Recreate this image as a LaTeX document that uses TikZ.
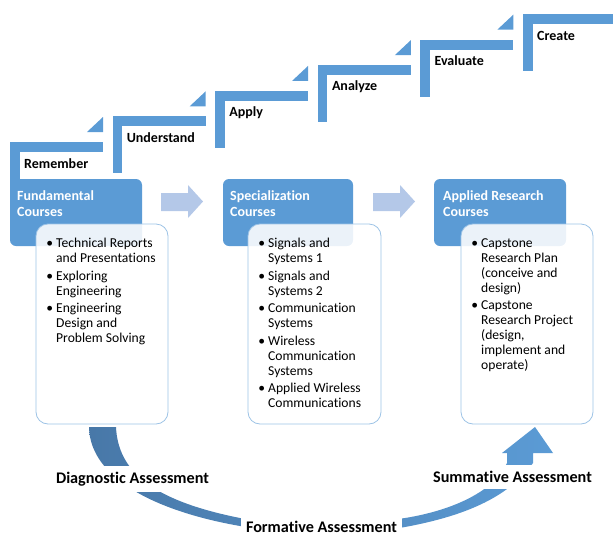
\documentclass[tikz,border=0pt]{standalone}
\usepackage{fontspec}
\setmainfont[Ligatures=NoCommon]{Carlito}
\definecolor{stepblue}{HTML}{5B9BD5}
\definecolor{darkband}{HTML}{4878A8}
\definecolor{lightarrow}{HTML}{B4C8E8}
\definecolor{boxline}{HTML}{9DC3E6}
\tikzset{
  stepbar/.style={fill=stepblue, draw=none},
  header/.style={fill=stepblue, draw=none, rounded corners=6pt},
  listbox/.style={fill=white, fill opacity=0.88, draw=boxline, line width=0.8pt, rounded corners=12pt},
  steplabel/.style={font=\bfseries\fontsize{14}{16}\selectfont, anchor=west, inner sep=0pt},
  headtext/.style={font=\bfseries\fontsize{14}{16}\selectfont, text=white, align=left, anchor=north west, inner sep=0pt},
  listtext/.style={font=\fontsize{13.6}{15}\selectfont, align=left, anchor=north west, inner sep=0pt},
  assess/.style={font=\bfseries\fontsize{16.2}{18}\selectfont, fill=white, inner xsep=5pt, inner ysep=6pt},
  flowarrow/.style={fill=lightarrow, draw=none},
  band/.style={left color=darkband, right color=stepblue, draw=none}
}
\newcommand{\bul}{\llap{\textbullet\hspace{3pt}}}
\begin{document}
\begin{tikzpicture}[x=1pt,y=-1pt]
\useasboundingbox (0,0) rectangle (613,536);

% Bloom's staircase
\foreach \i/\lab in {0/Remember,1/Understand,2/Apply,3/Analyze,4/Evaluate,5/Create}{
  \pgfmathsetmacro{\xo}{10+102.6*\i}
  \pgfmathsetmacro{\yo}{142-25.6*\i}
  \fill[stepblue] (\xo,\yo) rectangle ++(93,10);
  \fill[stepblue] (\xo,\yo) rectangle ++(9.5,57);
  \ifnum\i<5
    \fill[stepblue] (\xo+93,\yo-25) -- (\xo+93,\yo-10) -- (\xo+77,\yo-10) -- cycle;
  \fi
  \node[steplabel] (lab\i) at (\xo+14,\yo+21.5) {\lab};
}

% header boxes
\path[header] (10,179) rectangle (142,246);
\path[header] (223,179) rectangle (353,246);
\path[header] (434,179) rectangle (566,246);

% list boxes
\path[listbox] (36,224) rectangle (168,424);
\path[listbox] (248,224) rectangle (381,424);
\path[listbox] (461,224) rectangle (593,424);

\node[headtext] (h1) at (17,190.5) {Fundamental\\Courses};
\node[headtext] (h2) at (230,190.5) {Specialization\\Courses};
\node[headtext] (h3) at (443,190.5) {Applied Research\\Courses};

\node[listtext] (l1) at (56,238) {\bul Technical Reports\\and Presentations\\[2.5pt]
\bul Exploring\\Engineering\\[2.5pt]
\bul Engineering\\Design and\\Problem Solving};
\node[listtext] (l2) at (268,238) {\bul Signals and\\Systems 1\\[2.5pt]
\bul Signals and\\Systems 2\\[2.5pt]
\bul Communication\\Systems\\[2.5pt]
\bul Wireless\\Communication\\Systems\\[2.5pt]
\bul Applied Wireless\\Communications};
\node[listtext] (l3) at (481,238) {\bul Capstone\\Research Plan\\(conceive and\\design)\\[2.5pt]
\bul Capstone\\Research Project\\(design,\\implement and\\operate)};

% flow arrows between course groups
\fill[flowarrow] (161,193) -- (188,193) -- (188,185) -- (203,201.5) -- (188,218) -- (188,211) -- (161,211) -- cycle;
\fill[flowarrow] (373,193) -- (400,193) -- (400,185) -- (415,201.5) -- (400,218) -- (400,211) -- (373,211) -- cycle;

% assessment band
\path[band] (89,427) .. controls (90,480) and (160,512) .. (240,526)
  .. controls (300,537) and (350,537) .. (405,527)
  .. controls (470,515) and (510,495) .. (533,463)
  -- (533,453) -- (553,453) -- (535,427) -- (502,453) -- (507,453) -- (507,463)
  .. controls (495,490) and (455,510) .. (405,518)
  .. controls (350,527) and (300,527) .. (240,518)
  .. controls (150,500) and (118,470) .. (116,427) -- cycle;

\node[assess] (diag) at (132.5,479) {Diagnostic Assessment};
\node[assess] (summ) at (512.5,477) {Summative Assessment};
\node[assess] (form) at (321.5,527) {Formative Assessment};
\end{tikzpicture}
\end{document}
